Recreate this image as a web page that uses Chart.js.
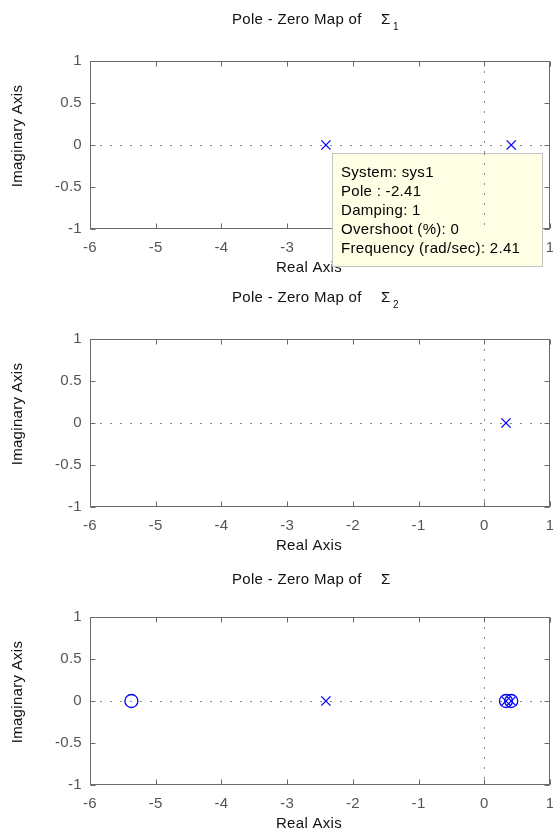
<!DOCTYPE html>
<html><head><meta charset="utf-8">
<script src="https://cdn.jsdelivr.net/npm/chart.js@4/dist/chart.umd.min.js"></script>
<style>
html,body{margin:0;padding:0;background:#fff;}
.wrap{position:absolute;left:0;width:553px;height:278px;}
</style></head><body>
<div class="wrap" style="top:0"><canvas id="c1"></canvas></div>
<div class="wrap" style="top:278px"><canvas id="c2"></canvas></div>
<div class="wrap" style="top:556px"><canvas id="c3"></canvas></div>
<script>
// ---- data ----
const xTicks = [-6, -5, -4, -3, -2, -1, 0, 1];
const xTickLabels = ['-6', '-5', '-4', '-3', '-2', '-1', '0', '1'];
const yTicks = [-1, -0.5, 0, 0.5, 1];
const yTickLabels = ['-1', '-0.5', '0', '0.5', '1'];
const sys1PolesRe = [-2.41, 0.41];
const sys1PolesIm = [0, 0];
const sys2PolesRe = [0.33];
const sys2PolesIm = [0];
const sysPolesRe = [-2.41, 0.33, 0.41];
const sysPolesIm = [0, 0, 0];
const sysZerosRe = [-5.37, 0.33, 0.41];
const sysZerosIm = [0, 0, 0];
const titleMain = 'Pole - Zero Map of';
const titleSym = 'Σ';
const titleSubs = ['1', '2', ''];
const xLabel = 'Real Axis';
const yLabel = 'Imaginary Axis';
const tipLines = ['System: sys1', 'Pole : -2.41', 'Damping: 1', 'Overshoot (%): 0', 'Frequency (rad/sec): 2.41'];

// ---- styling ----
const FONT = '"Liberation Sans", Arial, sans-serif';
const FS = 15;
const LS = '0.3px';
const BLUE = '#0000ff';
const pts = (re, im) => re.map((v, i) => ({x: v, y: im[i]}));

const framePlugin = {
  id: 'frame',
  beforeDraw(chart) {
    chart.ctx.letterSpacing = LS;
  },
  beforeDatasetsDraw(chart) {
    const {ctx, chartArea: a, scales: {x, y}} = chart;
    ctx.save();
    ctx.strokeStyle = '#8a8a8a';
    ctx.lineWidth = 1;
    ctx.setLineDash([2, 8]);
    const y0 = Math.round(y.getPixelForValue(0)) + 0.5;
    const x0 = Math.round(x.getPixelForValue(0)) + 0.5;
    ctx.beginPath(); ctx.moveTo(a.left, y0); ctx.lineTo(a.right, y0); ctx.stroke();
    ctx.beginPath(); ctx.moveTo(x0, a.top); ctx.lineTo(x0, a.bottom); ctx.stroke();
    ctx.restore();
  },
  afterDatasetsDraw(chart) {
    const {ctx, chartArea: a, scales: {x, y}} = chart;
    ctx.save();
    ctx.strokeStyle = '#6a6a6a';
    ctx.lineWidth = 1;
    const L = Math.round(a.left) + 0.5, R = Math.round(a.right) - 0.5;
    const T = Math.round(a.top) + 0.5, B = Math.round(a.bottom) - 0.5;
    ctx.strokeRect(L, T, R - L, B - T);
    ctx.beginPath();
    xTicks.forEach(v => {
      const px = Math.round(x.getPixelForValue(v)) + 0.5;
      ctx.moveTo(px, B); ctx.lineTo(px, B - 5);
      ctx.moveTo(px, T); ctx.lineTo(px, T + 5);
    });
    yTicks.forEach(v => {
      const py = Math.round(y.getPixelForValue(v)) + 0.5;
      ctx.moveTo(L, py); ctx.lineTo(L + 5, py);
      ctx.moveTo(R, py); ctx.lineTo(R - 5, py);
    });
    ctx.stroke();
    ctx.restore();
  },
  afterDraw(chart, args, opts) {
    const {ctx, chartArea: a, scales: {x, y}} = chart;
    ctx.save();
    ctx.letterSpacing = LS;
    // title
    ctx.fillStyle = '#111';
    ctx.font = FS + 'px ' + FONT;
    ctx.textBaseline = 'middle';
    ctx.textAlign = 'left';
    const ty = opts.titleY;
    ctx.fillText(titleMain, 232, ty);
    ctx.fillText(titleSym, 381, ty);
    if (opts.sub) {
      ctx.font = '10px ' + FONT;
      ctx.fillText(opts.sub, 393, ty + 7);
    }
    // axis titles
    ctx.font = FS + 'px ' + FONT;
    ctx.textAlign = 'center';
    ctx.fillText(xLabel, 309, 268);
    ctx.translate(18, 136);
    ctx.rotate(-Math.PI / 2);
    ctx.fillText(yLabel, 0, 0);
    ctx.restore();
    if (opts.tip) {
      ctx.save();
      ctx.letterSpacing = LS;
      const bx = 332, by = 153, bw = 211, bh = 114;
      ctx.fillStyle = '#ffffe6';
      ctx.fillRect(bx, by, bw, bh);
      ctx.strokeStyle = '#c4c4c4';
      ctx.lineWidth = 1;
      ctx.strokeRect(bx + 0.5, by + 0.5, bw - 1, bh - 1);
      // zero line shows through
      ctx.strokeStyle = '#8a8a8a';
      ctx.setLineDash([2, 8]);
      const x0 = Math.round(x.getPixelForValue(0)) + 0.5;
      ctx.beginPath(); ctx.moveTo(x0, by); ctx.lineTo(x0, a.bottom); ctx.stroke();
      ctx.setLineDash([]);
      ctx.fillStyle = '#000';
      ctx.font = FS + 'px ' + FONT;
      ctx.textBaseline = 'middle';
      ctx.textAlign = 'left';
      tipLines.forEach((t, i) => ctx.fillText(t, 341, 173 + i * 19));
      ctx.restore();
    }
  }
};

function makeChart(id, datasets, opts) {
  return new Chart(document.getElementById(id), {
    type: 'scatter',
    data: {datasets},
    options: {
      responsive: true,
      maintainAspectRatio: false,
      animation: false,
      events: [],
      layout: {autoPadding: false, padding: {top: 61, right: 3, left: 0, bottom: 0}},
      plugins: {legend: {display: false}, tooltip: {enabled: false}, title: {display: false}, frame: opts},
      scales: {
        x: {
          type: 'linear', min: -6, max: 1,
          afterBuildTicks: s => { s.ticks = xTicks.map(v => ({value: v})); },
          afterFit: s => { s.height = 49; s.paddingLeft = 0; s.paddingRight = 0; },
          grid: {display: false, drawTicks: false},
          border: {display: false},
          ticks: {color: '#555', font: {family: FONT, size: FS}, padding: 10, maxRotation: 0, autoSkip: false,
                  callback: (v, i) => xTickLabels[xTicks.indexOf(v)]}
        },
        y: {
          type: 'linear', min: -1, max: 1,
          afterBuildTicks: s => { s.ticks = yTicks.map(v => ({value: v})); },
          afterFit: s => { s.width = 90; s.paddingTop = 0; s.paddingBottom = 0; },
          grid: {display: false, drawTicks: false},
          border: {display: false},
          ticks: {color: '#555', font: {family: FONT, size: FS}, padding: 8, autoSkip: false,
                  callback: (v, i) => yTickLabels[yTicks.indexOf(v)]}
        }
      }
    },
    plugins: [framePlugin]
  });
}

const poleStyle = {pointStyle: 'crossRot', pointRadius: 6.5, borderColor: BLUE, backgroundColor: BLUE, borderWidth: 1.3, showLine: false};
const zeroStyle = {pointStyle: 'circle', pointRadius: 6.5, borderColor: BLUE, backgroundColor: 'rgba(0,0,0,0)', borderWidth: 1.3, showLine: false};

makeChart('c1', [Object.assign({label: 'poles', data: pts(sys1PolesRe, sys1PolesIm)}, poleStyle)], {titleY: 20, sub: titleSubs[0], tip: true});
makeChart('c2', [Object.assign({label: 'poles', data: pts(sys2PolesRe, sys2PolesIm)}, poleStyle)], {titleY: 20, sub: titleSubs[1], tip: false});
makeChart('c3', [
  Object.assign({label: 'zeros', data: pts(sysZerosRe, sysZerosIm)}, zeroStyle),
  Object.assign({label: 'poles', data: pts(sysPolesRe, sysPolesIm)}, poleStyle)
], {titleY: 24, sub: titleSubs[2], tip: false});
</script>
</body></html>
